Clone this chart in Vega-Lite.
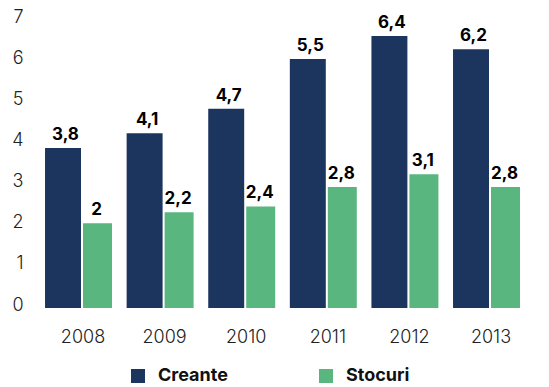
{
  "$schema": "https://vega.github.io/schema/vega-lite/v6.json",
  "autosize": "none",
  "width": 510,
  "height": 288,
  "padding": {"left": 30, "top": 20, "right": 9, "bottom": 79},
  "background": "white",
  "config": {
    "view": {"stroke": null},
    "font": "Inter",
    "axis": {"labelFont": "Inter", "labelFontSize": 18, "labelColor": "#222222", "labelFontWeight": 300},
    "legend": {"labelFont": "Inter"}
  },
  "data": {
    "values": [
      {"year": "2008", "series": "Creante", "value": 3.89, "label": "3,8"},
      {"year": "2008", "series": "Stocuri", "value": 2.06, "label": "2"},
      {"year": "2009", "series": "Creante", "value": 4.25, "label": "4,1"},
      {"year": "2009", "series": "Stocuri", "value": 2.33, "label": "2,2"},
      {"year": "2010", "series": "Creante", "value": 4.84, "label": "4,7"},
      {"year": "2010", "series": "Stocuri", "value": 2.47, "label": "2,4"},
      {"year": "2011", "series": "Creante", "value": 6.05, "label": "5,5"},
      {"year": "2011", "series": "Stocuri", "value": 2.94, "label": "2,8"},
      {"year": "2012", "series": "Creante", "value": 6.61, "label": "6,4"},
      {"year": "2012", "series": "Stocuri", "value": 3.25, "label": "3,1"},
      {"year": "2013", "series": "Creante", "value": 6.29, "label": "6,2"},
      {"year": "2013", "series": "Stocuri", "value": 2.94, "label": "2,8"}
    ]
  },
  "encoding": {
    "x": {
      "field": "year", "type": "nominal",
      "scale": {"paddingInner": 0.24, "paddingOuter": 0.245},
      "axis": {"title": null, "labelAngle": 0, "domain": false, "ticks": false, "tickSize": 0, "labelPadding": 20, "labelOffset": 2}
    },
    "xOffset": {
      "field": "series", "type": "nominal",
      "scale": {"domain": ["Creante", "Stocuri"], "paddingInner": 0, "paddingOuter": 0}
    },
    "y": {
      "field": "value", "type": "quantitative",
      "scale": {"domain": [0, 7], "nice": false},
      "axis": {"title": null, "values": [0, 1, 2, 3, 4, 5, 6, 7], "grid": false, "domain": false, "ticks": false, "tickSize": 0, "labelPadding": 7, "labelOffset": -3}
    }
  },
  "layer": [
    {
      "transform": [{"filter": "datum.series === 'Creante'"}],
      "mark": {"type": "bar", "width": {"band": 1.16}},
      "encoding": {
        "color": {
          "field": "series", "type": "nominal",
          "scale": {"domain": ["Creante", "Stocuri"], "range": ["#1C355E", "#5AB67F"]},
          "legend": {
            "title": null, "orient": "none", "legendX": 99, "legendY": 347, "direction": "horizontal",
            "symbolType": "square", "symbolSize": 196, "symbolStrokeWidth": 0,
            "labelFontSize": 18, "labelFontWeight": "bold", "labelColor": "#111111",
            "labelOffset": 11, "columnPadding": 89
          }
        }
      }
    },
    {
      "transform": [{"filter": "datum.series === 'Stocuri'"}],
      "mark": {"type": "bar", "width": {"band": 0.935}},
      "encoding": {
        "color": {"field": "series", "type": "nominal"}
      }
    },
    {
      "mark": {"type": "text", "dy": -8, "baseline": "alphabetic", "fontSize": 17, "fontWeight": "bold", "color": "#000000"},
      "encoding": {
        "text": {"field": "label", "type": "nominal"}
      }
    }
  ]
}
